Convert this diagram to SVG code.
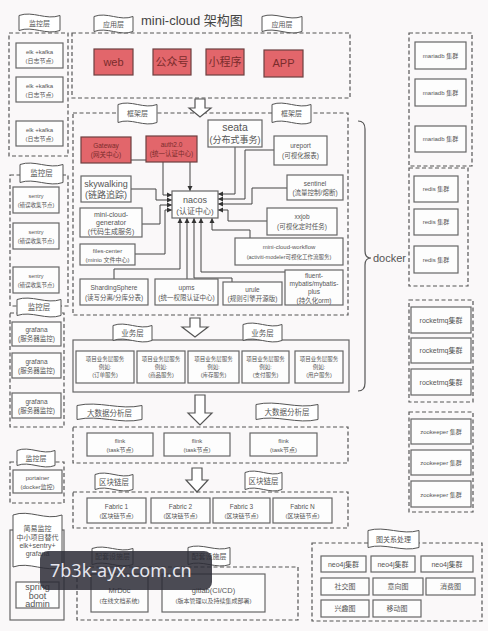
<svg xmlns="http://www.w3.org/2000/svg" width="488" height="631" viewBox="0 0 488 631">
<defs>
<style>
.dash{fill:none;stroke:#555;stroke-width:1.2;stroke-dasharray:4 2.5}
.solid{fill:none;stroke:#666;stroke-width:1.2}
.box{fill:#fdfdfd;stroke:#666;stroke-width:1.2}
.red{fill:#e2666b;stroke:#6d4040;stroke-width:1.2}
.flag{fill:#fff;stroke:#555;stroke-width:1}
.harrow{fill:#fff;stroke:#555;stroke-width:1.2}
.conn{fill:none;stroke:#444;stroke-width:1;marker-end:url(#ah)}
text{font-family:"Liberation Sans","Noto Sans CJK SC",sans-serif;fill:#555;text-anchor:middle}
.rt{fill:#7a2c2c;font-size:11px}
.s5{font-size:5.5px}.s6{font-size:6px}.s65{font-size:6.5px}.s7{font-size:7px}.s75{font-size:7.5px}.s8{font-size:8px}.s9{font-size:9px}.s10{font-size:10px}
</style>
<marker id="ah" markerWidth="6" markerHeight="6" refX="5" refY="3" orient="auto" markerUnits="userSpaceOnUse"><path d="M0,0.5 L5,3 L0,5.5Z" fill="#333"/></marker>
</defs>
<rect x="0" y="0" width="488" height="631" fill="#faf8f9"/>
<text x="141" y="25" style="font-size:13px;fill:#444;text-anchor:start">mini-cloud 架构图</text>

<g id="containers">
<rect class="dash" x="9" y="33" width="59" height="123"/>
<rect class="dash" x="10" y="175" width="58" height="131"/>
<rect class="dash" x="10" y="313" width="54" height="114"/>
<rect class="dash" x="10" y="462" width="54" height="41"/>
<rect class="solid" x="10" y="530" width="54" height="90"/>
<rect class="dash" x="72" y="33" width="278" height="65"/>
<rect class="dash" x="73" y="113" width="275" height="202"/>
<rect class="solid" x="73" y="340" width="276" height="52"/>
<rect class="dash" x="73" y="427" width="275" height="36"/>
<rect class="dash" x="73" y="492" width="275" height="36"/>
<rect class="dash" x="77" y="567" width="221" height="53"/>
<rect class="dash" x="312" y="543" width="170" height="78"/>
<rect class="dash" x="409" y="33" width="63" height="133"/>
<rect class="dash" x="409" y="168" width="59" height="118"/>
<rect class="dash" x="409" y="300" width="64" height="102"/>
<rect class="dash" x="409" y="412" width="64" height="100"/>
</g>

<g id="flags">
<path class="flag" d="M19,15.5 C32.7,10.5 46.3,20.5 60,15.5 L60,30.5 C46.3,35.5 32.7,25.5 19,30.5Z"/><text class="s7" x="39.5" y="26">监控层</text>
<path class="flag" d="M94,16.5 C107,11.5 120,21.5 133,16.5 L133,31.5 C120,36.5 107,26.5 94,31.5Z"/><text class="s7" x="113.5" y="27">应用层</text>
<path class="flag" d="M262,16.5 C275.3,11.5 288.7,21.5 302,16.5 L302,31.5 C288.7,36.5 275.3,26.5 262,31.5Z"/><text class="s7" x="282" y="27">应用层</text>
<path class="flag" d="M118,104.5 C131,99.5 144,109.5 157,104.5 L157,122.5 C144,127.5 131,117.5 118,122.5Z"/><text class="s7" x="137.5" y="116">框架层</text>
<path class="flag" d="M272,104.5 C285,99.5 298,109.5 311,104.5 L311,122.5 C298,127.5 285,117.5 272,122.5Z"/><text class="s7" x="291.5" y="116">框架层</text>
<path class="flag" d="M20,164.5 C34.3,159.5 48.7,169.5 63,164.5 L63,182.5 C48.7,187.5 34.3,177.5 20,182.5Z"/><text class="s75" x="41.5" y="176">监控层</text>
<path class="flag" d="M17,299.5 C31.7,294.5 46.3,304.5 61,299.5 L61,315.5 C46.3,320.5 31.7,310.5 17,315.5Z"/><text class="s75" x="39" y="310">监控层</text>
<path class="flag" d="M113,325.5 C126,320.5 139,330.5 152,325.5 L152,340.5 C139,345.5 126,335.5 113,340.5Z"/><text class="s75" x="132.5" y="336">业务层</text>
<path class="flag" d="M243,324.5 C256,319.5 269,329.5 282,324.5 L282,340.5 C269,345.5 256,335.5 243,340.5Z"/><text class="s75" x="262.5" y="335.5">业务层</text>
<path class="flag" d="M77,405.5 C98.7,400.5 120.3,410.5 142,405.5 L142,419.5 C120.3,424.5 98.7,414.5 77,419.5Z"/><text class="s75" x="109.5" y="415.5">大数据分析层</text>
<path class="flag" d="M256,404.5 C276.7,399.5 297.3,409.5 318,404.5 L318,419.5 C297.3,424.5 276.7,414.5 256,419.5Z"/><text class="s75" x="287" y="415">大数据分析层</text>
<path class="flag" d="M95,474.5 C107.7,469.5 120.3,479.5 133,474.5 L133,489.5 C120.3,494.5 107.7,484.5 95,489.5Z"/><text class="s75" x="114" y="485">区块链层</text>
<path class="flag" d="M245,472.5 C257.3,467.5 269.7,477.5 282,472.5 L282,489.5 C269.7,494.5 257.3,484.5 245,489.5Z"/><text class="s75" x="263.5" y="484">区块链层</text>
<path class="flag" d="M17,450.5 C29.7,445.5 42.3,455.5 55,450.5 L55,465.5 C42.3,470.5 29.7,460.5 17,465.5Z"/><text class="s7" x="36" y="461">监控层</text>
<path class="flag" d="M92,548.5 C105.7,543.5 119.3,553.5 133,548.5 L133,564.5 C119.3,569.5 105.7,559.5 92,564.5Z"/><text class="s7" x="112.5" y="559">配套设施层</text>
<path class="flag" d="M188,547.5 C202,542.5 216,552.5 230,547.5 L230,564.5 C216,569.5 202,559.5 188,564.5Z"/><text class="s7" x="209" y="559">配套设施层</text>
<path class="flag" d="M368,530.5 C385,525.5 402,535.5 419,530.5 L419,547.5 C402,552.5 385,542.5 368,547.5Z"/><text class="s7" x="393.5" y="542">图关系处理</text>
</g>

<g id="simple-monitor">
<path class="flag" d="M13,515 C29.3,509 45.7,521 62,515 L62,567 C45.7,573 29.3,561 13,567Z"/>
<text class="s7" x="37.5" y="531">简易监控</text>
<text class="s7" x="37.5" y="540">中小项目替代</text>
<text class="s7" x="37.5" y="548">elk+sentry+</text>
<text class="s7" x="37.5" y="556">grafana</text>
</g>

<g id="arrows">
<path class="harrow" d="M195,99 H205 V108 H211 L200,117 L189,108 H195Z"/>
<path class="harrow" d="M190,318 H200 V327 H208 L195,337 L182,327 H190Z"/>
<path class="harrow" d="M195,395 H205 V413 H212 L200,425 L188,413 H195Z"/>
<path class="harrow" d="M192,468 H202 V480 H208 L197,492 L186,480 H192Z"/>
</g>

<g id="connectors">
<path class="conn" d="M131,160 H163 V195 H172"/>
<path class="conn" d="M131,189 H156 V200 H172"/>
<path class="conn" d="M142,224 H160 V205 H172"/>
<path class="conn" d="M135,254 H165 V210 H172"/>
<path class="conn" d="M190,162 V191"/>
<path class="conn" d="M235,147 V194 H218"/>
<path class="conn" d="M274,150 H245 V199 H218"/>
<path class="conn" d="M287,188 H252 V204 H218"/>
<path class="conn" d="M267,221 H228 V210 H218"/>
<path class="conn" d="M114,279 V269 H180 V218"/>
<path class="conn" d="M187,279 V218"/>
<path class="conn" d="M232,282 V278 H194 V218"/>
<path class="conn" d="M285,272 H201 V218"/>
<path class="conn" d="M250,238 V230 H212 V218"/>
</g>

<g id="docker">
<path d="M358,121 Q365,121 365,129 L365,251 Q365,258 371,258 Q365,258 365,265 L365,383 Q365,391 358,391" fill="none" stroke="#555" stroke-width="1.2"/>
<text x="373" y="262" style="font-size:11px;text-anchor:start">docker</text>
</g>

<g id="elk-1"><rect class="box" x="16" y="43" width="47" height="25"/><text class="s6" x="39.5" y="54">elk +kafka</text><text class="s6" x="39.5" y="63">(日志节点)</text></g>
<g id="elk-2"><rect class="box" x="16" y="77" width="47" height="25"/><text class="s6" x="39.5" y="88">elk +kafka</text><text class="s6" x="39.5" y="97">(日志节点)</text></g>
<g id="elk-3"><rect class="box" x="16" y="121" width="47" height="25"/><text class="s6" x="39.5" y="132">elk +kafka</text><text class="s6" x="39.5" y="141">(日志节点)</text></g>

<g id="sentry-1"><rect class="box" x="13" y="187" width="46" height="26"/><text class="s5" x="36" y="198">sentry</text><text class="s5" x="36" y="207">(错误收集节点)</text></g>
<g id="sentry-2"><rect class="box" x="13" y="223" width="46" height="26"/><text class="s5" x="36" y="234">sentry</text><text class="s5" x="36" y="243">(错误收集节点)</text></g>
<g id="sentry-3"><rect class="box" x="13" y="267" width="46" height="26"/><text class="s5" x="36" y="278">sentry</text><text class="s5" x="36" y="287">(错误收集节点)</text></g>

<g id="grafana-1"><rect class="box" x="12" y="322" width="49" height="24"/><text class="s65" x="36.5" y="332">grafana</text><text class="s65" x="36.5" y="341">(服务器监控)</text></g>
<g id="grafana-2"><rect class="box" x="12" y="353" width="49" height="25"/><text class="s65" x="36.5" y="364">grafana</text><text class="s65" x="36.5" y="373">(服务器监控)</text></g>
<g id="grafana-3"><rect class="box" x="12" y="393" width="49" height="25"/><text class="s65" x="36.5" y="404">grafana</text><text class="s65" x="36.5" y="413">(服务器监控)</text></g>

<g id="portainer"><rect class="box" x="13" y="470" width="49" height="23"/><text class="s6" x="37.5" y="480">portainer</text><text class="s6" x="37.5" y="489">(docker监控)</text></g>
<g id="spring-boot-admin"><rect class="box" x="16" y="582" width="43" height="26"/><text class="s9" x="37.5" y="590">spring</text><text class="s9" x="37.5" y="598.5">boot</text><text class="s9" x="37.5" y="607">admin</text></g>

<g id="web"><rect class="red" x="94" y="49" width="39" height="26"/><text class="rt" x="113.5" y="66">web</text></g>
<g id="gzh"><rect class="red" x="153" y="49" width="38" height="26"/><text class="rt" x="172" y="66">公众号</text></g>
<g id="xcx"><rect class="red" x="206" y="49" width="38" height="26"/><text class="rt" x="225" y="66">小程序</text></g>
<g id="app"><rect class="red" x="264" y="50" width="39" height="27"/><text class="rt" x="283.5" y="67">APP</text></g>

<g id="gateway"><rect class="red" x="81" y="137" width="50" height="26"/><text class="s65" x="106" y="148" style="fill:#7a2c2c">Gateway</text><text class="s65" x="106" y="157" style="fill:#7a2c2c">(网关中心)</text></g>
<g id="auth"><rect class="red" x="146" y="136" width="51" height="26"/><text class="s65" x="171.5" y="147" style="fill:#7a2c2c">auth2.0</text><text class="s65" x="171.5" y="156" style="fill:#7a2c2c">(统一认证中心)</text></g>
<g id="seata"><rect class="box" x="208" y="120" width="54" height="27"/><text x="235" y="131" style="font-size:10.5px">seata</text><text class="s9" x="235" y="143">(分布式事务)</text></g>
<g id="ureport"><rect class="box" x="274" y="136" width="53" height="29"/><text class="s65" x="300.5" y="148">ureport</text><text class="s65" x="300.5" y="158">(可视化报表)</text></g>
<g id="sentinel"><rect class="box" x="287" y="175" width="56" height="25"/><text class="s65" x="315" y="186">sentinel</text><text class="s65" x="315" y="195">(流量控制/熔断)</text></g>
<g id="xxjob"><rect class="box" x="267" y="208" width="70" height="27"/><text class="s65" x="302" y="219">xxjob</text><text class="s65" x="302" y="228.5">(可视化定时任务)</text></g>
<g id="nacos"><rect class="box" x="172" y="191" width="46" height="27"/><text class="s9" x="195" y="203">nacos</text><text class="s8" x="195" y="213.5">(认证中心)</text></g>
<g id="skywalking"><rect class="box" x="81" y="176" width="50" height="26"/><text class="s9" x="106" y="187">skywalking</text><text class="s9" x="106" y="198">(链路追踪)</text></g>
<g id="generator"><rect class="box" x="80" y="208" width="62" height="29"/><text class="s7" x="111" y="216.5">mini-cloud-</text><text class="s7" x="111" y="225">generator</text><text class="s7" x="111" y="234">(代码生成服务)</text></g>
<g id="files-center"><rect class="box" x="80" y="244" width="55" height="21"/><text class="s6" x="107.5" y="253">files-center</text><text class="s6" x="107.5" y="262">(minio 文件中心)</text></g>
<g id="workflow"><rect class="box" x="235" y="238" width="108" height="27"/><text class="s6" x="289" y="249">mini-cloud-workflow</text><text class="s5" x="289" y="259">(activiti-modeler可视化工作流服务)</text></g>
<g id="sharding"><rect class="box" x="80" y="279" width="68" height="26"/><text class="s65" x="114" y="290">ShardingSphere</text><text class="s65" x="114" y="299.5">(读写分离/分库分表)</text></g>
<g id="upms"><rect class="box" x="155" y="279" width="63" height="26"/><text class="s65" x="186.5" y="290">upms</text><text class="s65" x="186.5" y="299.5">(统一权限认证中心)</text></g>
<g id="urule"><rect class="box" x="223" y="282" width="59" height="23"/><text class="s65" x="252.5" y="292">urule</text><text class="s65" x="252.5" y="301">(规则引擎开源版)</text></g>
<g id="fluent"><rect class="box" x="285" y="270" width="58" height="35"/><text class="s65" x="314" y="278">fluent-</text><text class="s65" x="314" y="286">mybatis/mybatis-</text><text class="s65" x="314" y="294">plus</text><text class="s65" x="314" y="302.5">(持久化orm)</text></g>

<g id="biz-1"><rect class="box" x="76" y="351" width="58" height="32"/><text class="s5" x="105" y="361">项目业务层服务</text><text class="s5" x="105" y="369">例如:</text><text class="s5" x="105" y="377">(订单服务)</text></g>
<g id="biz-2"><rect class="box" x="137" y="351" width="48" height="32"/><text class="s5" x="161" y="361">项目业务层服务</text><text class="s5" x="161" y="369">例如:</text><text class="s5" x="161" y="377">(商品服务)</text></g>
<g id="biz-3"><rect class="box" x="188" y="351" width="51" height="32"/><text class="s5" x="213.5" y="361">项目业务层服务</text><text class="s5" x="213.5" y="369">例如:</text><text class="s5" x="213.5" y="377">(库存服务)</text></g>
<g id="biz-4"><rect class="box" x="242" y="351" width="47" height="32"/><text class="s5" x="265.5" y="361">项目业务层服务</text><text class="s5" x="265.5" y="369">例如:</text><text class="s5" x="265.5" y="377">(支付服务)</text></g>
<g id="biz-5"><rect class="box" x="295" y="351" width="48" height="32"/><text class="s5" x="319" y="361">项目业务层服务</text><text class="s5" x="319" y="369">例如:</text><text class="s5" x="319" y="377">(用户服务)</text></g>

<g id="flink-1"><rect class="box" x="87" y="433" width="66" height="23"/><text class="s6" x="120" y="443">flink</text><text class="s6" x="120" y="451.5">(task节点)</text></g>
<g id="flink-2"><rect class="box" x="164" y="433" width="66" height="23"/><text class="s6" x="197" y="443">flink</text><text class="s6" x="197" y="451.5">(task节点)</text></g>
<g id="flink-3"><rect class="box" x="250" y="433" width="67" height="23"/><text class="s6" x="283.5" y="443">flink</text><text class="s6" x="283.5" y="451.5">(task节点)</text></g>

<g id="fabric-1"><rect class="box" x="87" y="498" width="59" height="25"/><text class="s65" x="116.5" y="508.5">Fabric 1</text><text class="s6" x="116.5" y="517.5">(区块链节点)</text></g>
<g id="fabric-2"><rect class="box" x="151" y="498" width="59" height="25"/><text class="s65" x="180.5" y="508.5">Fabric 2</text><text class="s6" x="180.5" y="517.5">(区块链节点)</text></g>
<g id="fabric-3"><rect class="box" x="213" y="498" width="57" height="25"/><text class="s65" x="241.5" y="508.5">Fabric 3</text><text class="s6" x="241.5" y="517.5">(区块链节点)</text></g>
<g id="fabric-n"><rect class="box" x="273" y="498" width="59" height="25"/><text class="s65" x="302.5" y="508.5">Fabric N</text><text class="s6" x="302.5" y="517.5">(区块链节点)</text></g>

<g id="mrdoc"><rect class="box" x="91" y="574" width="57" height="38"/><text class="s75" x="119.5" y="593">MrDoc</text><text class="s6" x="119.5" y="603">(在线文档系统)</text></g>
<g id="gitlab"><rect class="box" x="162" y="574" width="103" height="38"/><text class="s75" x="213.5" y="593">gitlab(CI/CD)</text><text class="s6" x="213.5" y="603">(版本管理以及持续集成部署)</text></g>

<g id="neo4j-1"><rect class="box" x="321" y="556" width="45" height="16"/><text class="s7" x="343.5" y="567">neo4j集群</text></g>
<g id="neo4j-2"><rect class="box" x="371" y="556" width="44" height="16"/><text class="s7" x="393" y="567">neo4j集群</text></g>
<g id="neo4j-3"><rect class="box" x="421" y="556" width="52" height="16"/><text class="s7" x="447" y="567">neo4j集群</text></g>
<g id="social"><rect class="box" x="321" y="578" width="48" height="17"/><text class="s7" x="345" y="589">社交图</text></g>
<g id="intent"><rect class="box" x="373" y="578" width="50" height="17"/><text class="s7" x="398" y="589">意向图</text></g>
<g id="consume"><rect class="box" x="426" y="578" width="49" height="17"/><text class="s7" x="450.5" y="589">消费图</text></g>
<g id="interest"><rect class="box" x="321" y="600" width="48" height="17"/><text class="s7" x="345" y="611">兴趣图</text></g>
<g id="mobile"><rect class="box" x="373" y="600" width="48" height="17"/><text class="s7" x="397" y="611">移动图</text></g>

<g id="mariadb-1"><rect class="box" x="415" y="42" width="51" height="27"/><text class="s6" x="440.5" y="57.5">mariadb 集群</text></g>
<g id="mariadb-2"><rect class="box" x="415" y="79" width="51" height="27"/><text class="s6" x="440.5" y="94.5">mariadb 集群</text></g>
<g id="mariadb-3"><rect class="box" x="415" y="126" width="51" height="26"/><text class="s6" x="440.5" y="141">mariadb 集群</text></g>
<g id="redis-1"><rect class="box" x="414" y="176" width="44" height="26"/><text class="s6" x="436" y="191">redis 集群</text></g>
<g id="redis-2"><rect class="box" x="414" y="209" width="44" height="26"/><text class="s6" x="436" y="224">redis 集群</text></g>
<g id="redis-3"><rect class="box" x="414" y="246" width="44" height="27"/><text class="s6" x="436" y="261.5">redis 集群</text></g>
<g id="rocketmq-1"><rect class="box" x="411" y="307" width="60" height="26"/><text class="s7" x="441" y="322.5">rocketmq集群</text></g>
<g id="rocketmq-2"><rect class="box" x="411" y="338" width="60" height="25"/><text class="s7" x="441" y="353">rocketmq集群</text></g>
<g id="rocketmq-3"><rect class="box" x="411" y="369" width="60" height="26"/><text class="s7" x="441" y="384.5">rocketmq集群</text></g>
<g id="zookeeper-1"><rect class="box" x="411" y="419" width="60" height="25"/><text class="s6" x="441" y="434">zookeeper 集群</text></g>
<g id="zookeeper-2"><rect class="box" x="411" y="450" width="60" height="25"/><text class="s6" x="441" y="465">zookeeper 集群</text></g>
<g id="zookeeper-3"><rect class="box" x="411" y="481" width="60" height="26"/><text class="s6" x="441" y="496.5">zookeeper 集群</text></g>

<g id="watermark">
<rect x="40" y="551" width="172" height="39" rx="8" fill="#2b2b36" fill-opacity="0.85"/>
<text x="50" y="577" style="font-family:'Noto Sans','DejaVu Sans',sans-serif;font-size:18px;fill:#e6e6ee;text-anchor:start">7b3k-ayx.com.cn</text>
</g>
</svg>
